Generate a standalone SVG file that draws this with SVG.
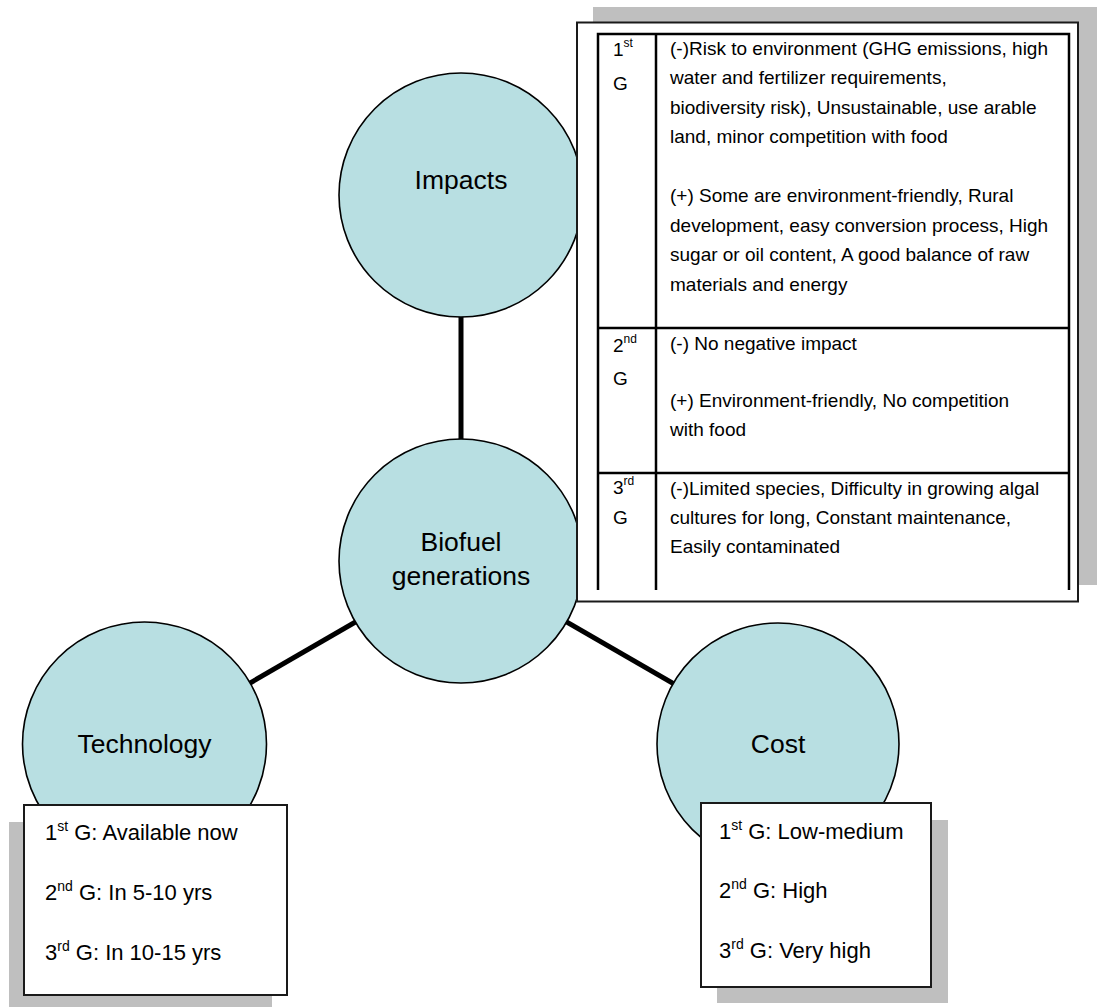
<svg xmlns="http://www.w3.org/2000/svg" width="1097" height="1007" viewBox="0 0 1097 1007">
  <style>
    text { font-family: "Liberation Sans", Arial, sans-serif; fill: #000; }
    .node { fill: #b8dfe2; stroke: #000; stroke-width: 1.6; }
    .label { font-size: 26.5px; text-anchor: middle; }
    .link { stroke: #000; stroke-width: 5; }
    .shadow { fill: #bfbfbf; }
    .panel { fill: #fff; stroke: #1a1a1a; stroke-width: 2; }
    .grid { stroke: #000; stroke-width: 2.5; fill: none; }
    .cell { font-size: 19px; }
    .note { font-size: 22px; }
    .sup { font-size: 12px; }
    .supL { font-size: 14px; }
  </style>

  <!-- connectors between the central hub and its three satellites -->
  <g id="connectors">
    <line class="link" x1="461" y1="195" x2="461" y2="561"/>
    <line class="link" x1="144.5" y1="744" x2="461" y2="561"/>
    <line class="link" x1="461" y1="561" x2="778" y2="744"/>
  </g>

  <g id="impacts">
    <circle class="node" cx="461" cy="195" r="122"/>
    <text class="label" x="461" y="189">Impacts</text>
  </g>

  <g id="biofuel-generations">
    <circle class="node" cx="461" cy="561" r="122"/>
    <text class="label" x="461" y="551">Biofuel</text>
    <text class="label" x="461" y="585">generations</text>
  </g>

  <g id="technology">
    <circle class="node" cx="144.5" cy="744" r="122"/>
    <text class="label" x="144.5" y="753">Technology</text>
  </g>

  <g id="cost">
    <circle class="node" cx="778" cy="744" r="121"/>
    <text class="label" x="778" y="753">Cost</text>
  </g>

  <!-- impacts table per generation -->
  <g id="impacts-table">
    <rect class="shadow" x="593" y="7" width="510" height="578"/>
    <rect class="panel" x="577" y="22.5" width="501" height="579"/>
    <path class="grid" d="M598 590 V34 H1069 V590 M656 34 V590 M598 328 H1069 M598 473 H1069"/>

    <text class="cell" x="613" y="56">1<tspan class="sup" dy="-9">st</tspan></text>
    <text class="cell" x="613" y="90">G</text>
    <text class="cell" x="670">
      <tspan x="670" y="54.5">(-)Risk to environment (GHG emissions, high</tspan>
      <tspan x="670" y="84">water and fertilizer requirements,</tspan>
      <tspan x="670" y="113.5">biodiversity risk), Unsustainable, use arable</tspan>
      <tspan x="670" y="143">land, minor competition with food</tspan>
      <tspan x="670" y="202">(+) Some are environment-friendly, Rural</tspan>
      <tspan x="670" y="231.5">development, easy conversion process, High</tspan>
      <tspan x="670" y="261">sugar or oil content, A good balance of raw</tspan>
      <tspan x="670" y="290.5">materials and energy</tspan>
    </text>

    <text class="cell" x="613" y="352">2<tspan class="sup" dy="-9">nd</tspan></text>
    <text class="cell" x="613" y="385">G</text>
    <text class="cell" x="670">
      <tspan x="670" y="350">(-) No negative impact</tspan>
      <tspan x="670" y="407">(+) Environment-friendly, No competition</tspan>
      <tspan x="670" y="436">with food</tspan>
    </text>

    <text class="cell" x="613" y="494">3<tspan class="sup" dy="-9">rd</tspan></text>
    <text class="cell" x="613" y="524">G</text>
    <text class="cell" x="670">
      <tspan x="670" y="495">(-)Limited species, Difficulty in growing algal</tspan>
      <tspan x="670" y="524">cultures for long, Constant maintenance,</tspan>
      <tspan x="670" y="553">Easily contaminated</tspan>
    </text>
  </g>

  <!-- technology availability note -->
  <g id="technology-note">
    <rect class="shadow" x="9" y="822" width="263" height="190"/>
    <rect class="panel" x="24" y="805" width="263" height="190"/>
    <text class="note" x="45" y="840">1<tspan class="supL" dy="-9">st</tspan><tspan dy="9"> G: Available now</tspan></text>
    <text class="note" x="45" y="900">2<tspan class="supL" dy="-9">nd</tspan><tspan dy="9"> G: In 5-10 yrs</tspan></text>
    <text class="note" x="45" y="960">3<tspan class="supL" dy="-9">rd</tspan><tspan dy="9"> G: In 10-15 yrs</tspan></text>
  </g>

  <!-- cost note -->
  <g id="cost-note">
    <rect class="shadow" x="717" y="820" width="231" height="183"/>
    <rect class="panel" x="701" y="803" width="230" height="184"/>
    <text class="note" x="719" y="839">1<tspan class="supL" dy="-9">st</tspan><tspan dy="9"> G: Low-medium</tspan></text>
    <text class="note" x="719" y="898">2<tspan class="supL" dy="-9">nd</tspan><tspan dy="9"> G: High</tspan></text>
    <text class="note" x="719" y="958">3<tspan class="supL" dy="-9">rd</tspan><tspan dy="9"> G: Very high</tspan></text>
  </g>
</svg>
